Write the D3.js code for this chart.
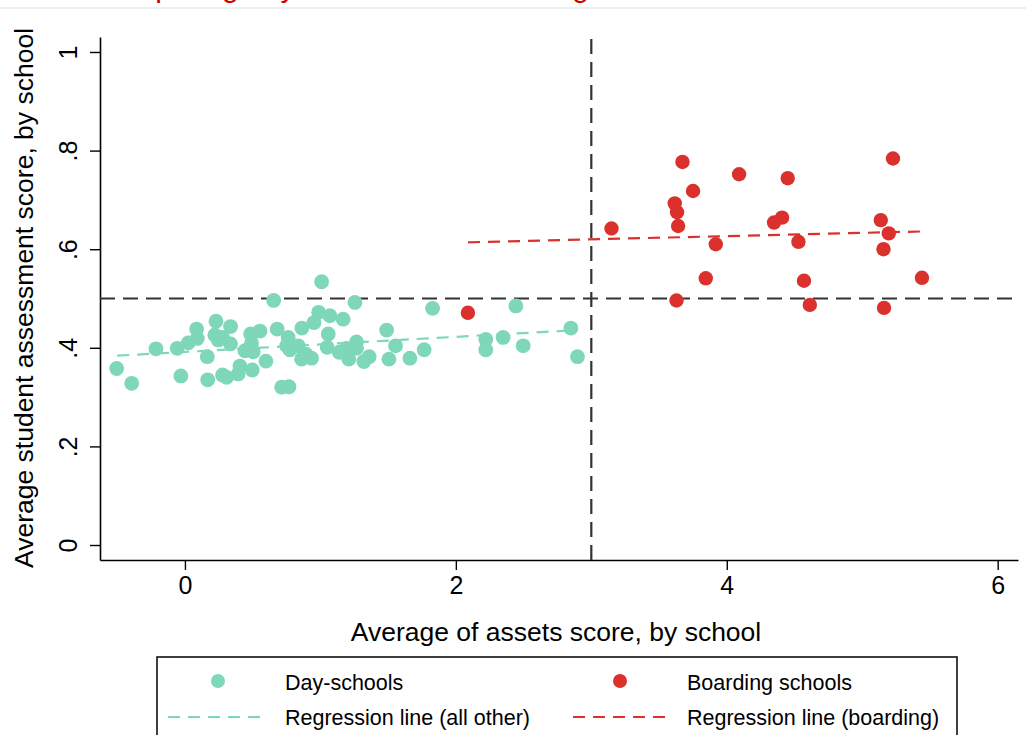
<!DOCTYPE html>
<html>
<head>
<meta charset="utf-8">
<script src="https://cdn.jsdelivr.net/npm/d3@7/dist/d3.min.js"></script>
<style>
  html, body { margin: 0; padding: 0; background: #ffffff; }
  svg { display: block; }
  text { font-family: "Liberation Sans", Arial, sans-serif; }
</style>
</head>
<body>
<svg id="chart" width="1026" height="735"></svg>
<script>
// ---- data ----
const titleText = "Comparing day schools and boarding schools";
const xTitle = "Average of assets score, by school";
const yTitle = "Average student assessment score, by school";

const xTicks = [0, 2, 4, 6];
const xTickLabels = ["0", "2", "4", "6"];
const yTicks = [0, 0.2, 0.4, 0.6, 0.8, 1];
const yTickLabels = ["0", ".2", ".4", ".6", ".8", "1"];

const dayX = [-0.504,-0.393,-0.214,-0.057,-0.030,0.024,0.086,0.091,0.165,0.168,
  0.229,0.221,0.246,0.278,0.278,0.308,0.337,0.337,0.393,0.406,
  0.443,0.485,0.492,0.504,0.497,0.554,0.598,0.655,0.681,0.714,
  0.768,0.762,0.751,0.775,0.836,0.863,0.861,0.893,0.935,0.952,
  0.987,1.009,1.050,1.058,1.070,1.139,1.168,1.193,1.210,1.255,
  1.267,1.267,1.321,1.360,1.489,1.506,1.555,1.661,1.766,1.828,
  2.221,2.221,2.349,2.443,2.497,2.849,2.898];
const dayY = [0.358,0.328,0.398,0.399,0.343,0.410,0.438,0.419,0.382,0.335,
  0.454,0.426,0.416,0.421,0.345,0.340,0.443,0.408,0.347,0.363,
  0.394,0.428,0.410,0.392,0.355,0.434,0.373,0.496,0.438,0.320,
  0.321,0.421,0.404,0.396,0.404,0.440,0.377,0.387,0.379,0.451,
  0.472,0.534,0.401,0.428,0.465,0.391,0.458,0.399,0.377,0.492,
  0.412,0.399,0.372,0.382,0.436,0.377,0.404,0.379,0.396,0.480,
  0.417,0.396,0.421,0.485,0.404,0.440,0.382];

const boardX = [3.149,3.673,3.751,3.616,3.633,3.641,3.629,3.845,3.919,4.091,
  4.349,4.408,4.450,4.529,4.570,4.613,5.227,5.137,5.196,5.157,
  5.161,5.441,2.089];
const boardY = [0.642,0.777,0.718,0.693,0.675,0.647,0.496,0.541,0.610,0.752,
  0.654,0.664,0.744,0.615,0.536,0.487,0.784,0.659,0.632,0.600,
  0.481,0.542,0.471];

const regDayX = [-0.5, 2.9];
const regDayY = [0.384, 0.436];
const regBoardX = [2.09, 5.44];
const regBoardY = [0.614, 0.636];

const cutX = [3];
const cutY = [0.5];

const legendLabels = ["Day-schools", "Boarding schools", "Regression line (all other)", "Regression line (boarding)"];

// ---- styles ----
const teal = "#7fd7ba";
const red = "#da312d";
const refColor = "#333333";

const svg = d3.select("#chart");

const x = d3.scaleLinear().domain([-0.627, 6.15]).range([100, 1018]);
const y = d3.scaleLinear().domain([-0.0304, 1.0304]).range([560, 37]);

// top strip + title (cut off at the top edge, as in the reference)
svg.append("line").attr("x1", 0).attr("x2", 1026).attr("y1", 8).attr("y2", 8)
  .attr("stroke", "#e3eded").attr("stroke-width", 1.5);
svg.append("text").attr("x", 92).attr("y", -3)
  .attr("font-size", 30).attr("fill", "#cc0000").text(titleText);

// axes
const xAxis = d3.axisBottom(x).tickValues(xTicks)
  .tickFormat((d, i) => xTickLabels[i]).tickSize(10).tickSizeOuter(0);
const gx = svg.append("g").attr("transform", "translate(0,560)").call(xAxis);
gx.select(".domain").attr("stroke", "#000").attr("stroke-width", 1.6);
gx.selectAll(".tick line").attr("stroke", "#000").attr("stroke-width", 1.4);
gx.selectAll(".tick text").attr("y", 34).attr("dy", 0)
  .attr("font-size", 25).attr("fill", "#000")
  .style("font-family", "'Liberation Sans', Arial, sans-serif");

const yAxis = d3.axisLeft(y).tickValues(yTicks)
  .tickFormat((d, i) => yTickLabels[i]).tickSize(10).tickSizeOuter(0);
const gy = svg.append("g").attr("transform", "translate(100,0)").call(yAxis);
gy.select(".domain").attr("stroke", "#000").attr("stroke-width", 1.6);
gy.selectAll(".tick line").attr("stroke", "#000").attr("stroke-width", 1.4);
gy.selectAll(".tick text").attr("x", 0).attr("y", -23).attr("dy", 0)
  .attr("transform", "rotate(-90)").attr("text-anchor", "middle")
  .attr("font-size", 25).attr("fill", "#000")
  .style("font-family", "'Liberation Sans', Arial, sans-serif");

// axis titles
svg.append("text").attr("x", 556).attr("y", 641).attr("text-anchor", "middle")
  .attr("font-size", 26.5).attr("fill", "#000").text(xTitle);
svg.append("text").attr("transform", "translate(33,298) rotate(-90)")
  .attr("text-anchor", "middle").attr("font-size", 26.5).attr("fill", "#000").text(yTitle);

// reference lines
svg.selectAll(".hcut").data(cutY).enter().append("line")
  .attr("x1", x.range()[0]).attr("x2", x.range()[1])
  .attr("y1", d => y(d)).attr("y2", d => y(d))
  .attr("stroke", refColor).attr("stroke-width", 2.2).attr("stroke-dasharray", "15,8");
svg.selectAll(".vcut").data(cutX).enter().append("line")
  .attr("x1", d => x(d)).attr("x2", d => x(d))
  .attr("y1", y.range()[0]).attr("y2", y.range()[1])
  .attr("stroke", refColor).attr("stroke-width", 2.2).attr("stroke-dasharray", "15,8");

// points
const dayPts = dayX.map((v, i) => [v, dayY[i]]);
const boardPts = boardX.map((v, i) => [v, boardY[i]]);
svg.append("g").selectAll("circle").data(dayPts).enter().append("circle")
  .attr("cx", d => x(d[0])).attr("cy", d => y(d[1])).attr("r", 7.4).attr("fill", teal);
svg.append("g").selectAll("circle").data(boardPts).enter().append("circle")
  .attr("cx", d => x(d[0])).attr("cy", d => y(d[1])).attr("r", 7.2).attr("fill", red);

// regression lines
const line = d3.line().x(d => x(d[0])).y(d => y(d[1]));
svg.append("path").datum(regDayX.map((v, i) => [v, regDayY[i]]))
  .attr("d", line).attr("fill", "none").attr("stroke", teal)
  .attr("stroke-width", 2.2).attr("stroke-dasharray", "12,8");
svg.append("path").datum(regBoardX.map((v, i) => [v, regBoardY[i]]))
  .attr("d", line).attr("fill", "none").attr("stroke", red)
  .attr("stroke-width", 2.2).attr("stroke-dasharray", "12,8");

// legend
const lg = svg.append("g");
lg.append("rect").attr("x", 157).attr("y", 657).attr("width", 800).attr("height", 100)
  .attr("fill", "#fff").attr("stroke", "#000").attr("stroke-width", 1.5);
lg.append("circle").attr("cx", 218).attr("cy", 681).attr("r", 7).attr("fill", teal);
lg.append("circle").attr("cx", 620).attr("cy", 681).attr("r", 7).attr("fill", red);
lg.append("line").attr("x1", 168).attr("x2", 268).attr("y1", 717).attr("y2", 717)
  .attr("stroke", teal).attr("stroke-width", 2.2).attr("stroke-dasharray", "12,8");
lg.append("line").attr("x1", 573).attr("x2", 670).attr("y1", 717).attr("y2", 717)
  .attr("stroke", red).attr("stroke-width", 2.2).attr("stroke-dasharray", "12,8");
const legPos = [[285, 690], [687, 690], [285, 725], [687, 725]];
lg.selectAll("text.leg").data(legendLabels).enter().append("text")
  .attr("x", (d, i) => legPos[i][0]).attr("y", (d, i) => legPos[i][1])
  .attr("font-size", 21.5).attr("fill", "#000").text(d => d);
</script>
</body>
</html>
